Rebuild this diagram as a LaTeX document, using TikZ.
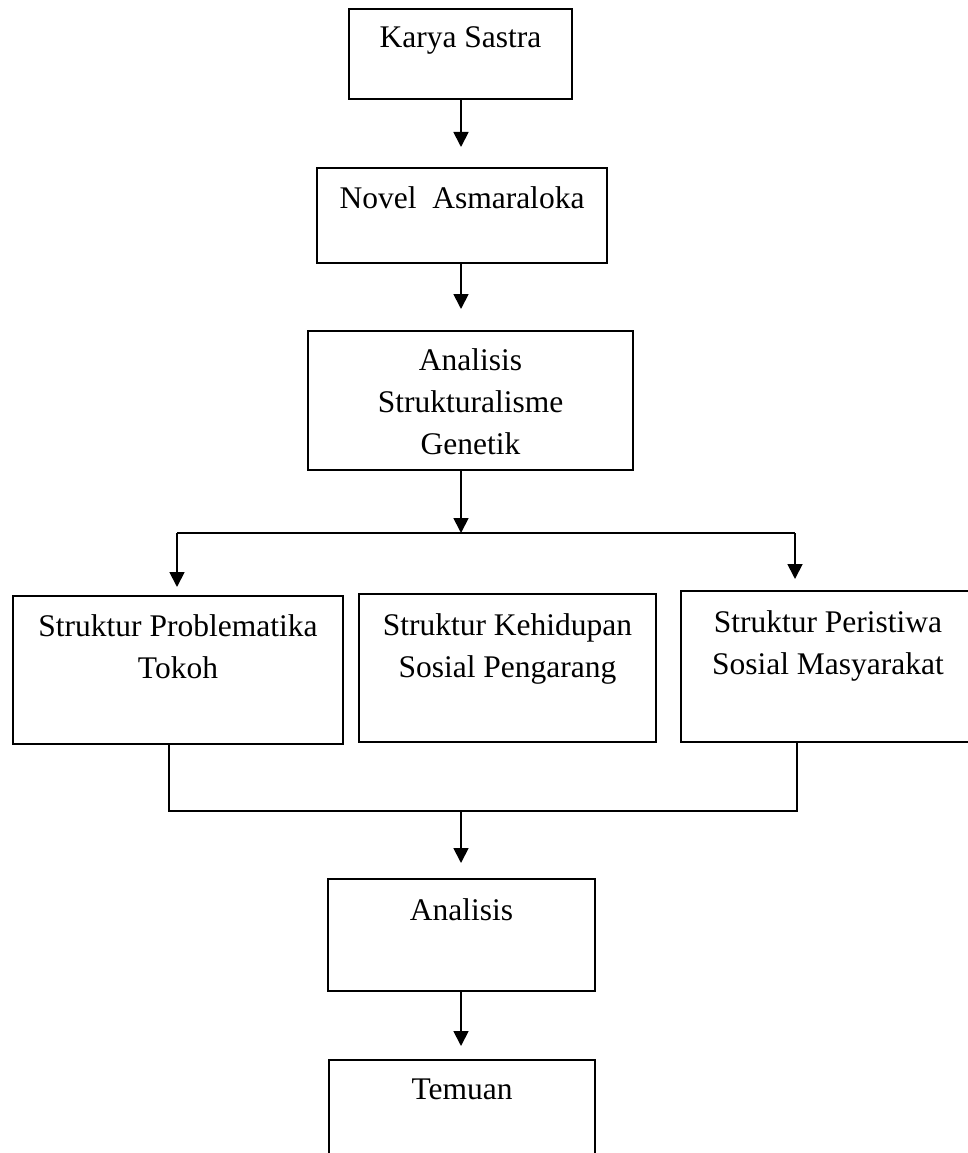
\documentclass[tikz,border=0pt]{standalone}
\usepackage{fontspec}
\setmainfont{Liberation Serif}
\usepackage{tikz}
\usetikzlibrary{arrows.meta}
\usetikzlibrary{calc}

\begin{document}
\begin{tikzpicture}[x=1pt,y=-1pt]

\tikzstyle{kotak}=[draw,line width=1.8pt,inner sep=0pt,outer sep=0pt]
\tikzstyle{teks}=[anchor=base,align=center,inner sep=0pt,font=\fontsize{31.5}{42}\selectfont]
\tikzstyle{panah}=[line width=1.8pt,-{Triangle[width=15pt,length=15pt]}]
\tikzstyle{garis}=[line width=1.8pt]

% FRAME
\clip (0,0) rectangle (968,1153);

% BOXES
\node [kotak,minimum width=223pt,minimum height=90pt] (karya) at (460.5,54) {};
\node [kotak,minimum width=290pt,minimum height=95pt] (novel) at (462,215.5) {};
\node [kotak,minimum width=325pt,minimum height=139pt] (genetik) at (470.5,400.5) {};
\node [kotak,minimum width=330pt,minimum height=148pt] (tokoh) at (178,670) {};
\node [kotak,minimum width=297pt,minimum height=148pt] (pengarang) at (507.5,668) {};
\node [kotak,minimum width=294pt,minimum height=151pt] (masyarakat) at (828,666.5) {};
\node [kotak,minimum width=267pt,minimum height=112pt] (analisis) at (461.5,935) {};
\node [kotak,minimum width=266pt,minimum height=110pt] (temuan) at (462,1115) {};

% TEXTS (base = last line)
\node [teks] (tkarya) at ([yshift=-39pt]karya.north) {Karya Sastra};
\node [teks] (tnovel) at ([yshift=-40pt]novel.north) {Novel\ \ Asmaraloka};
\node [teks] (tgenetik) at ([yshift=-123pt]genetik.north) {Analisis\\Strukturalisme\\Genetik};
\node [teks] (ttokoh) at ([yshift=-82pt]tokoh.north) {Struktur Problematika\\Tokoh};
\node [teks] (tpengarang) at ([yshift=-83pt]pengarang.north) {Struktur Kehidupan\\Sosial Pengarang};
\node [teks] (tmasyarakat) at ([yshift=-83pt]masyarakat.north) {Struktur Peristiwa\\Sosial Masyarakat};
\node [teks] (tanalisis) at ([yshift=-41pt]analisis.north) {Analisis};
\node [teks] (ttemuan) at ([yshift=-39pt]temuan.north) {Temuan};

% JOINTS
\coordinate (cabang) at (461,533);
\coordinate (kiri) at (177,533);
\coordinate (kanan) at (795,533);
\coordinate (gabung) at (461,811);
\coordinate (bawahkiri) at (169,811);
\coordinate (bawahkanan) at (797,811);

% ARROWS
\draw [panah,shorten >=21pt] (cabang |- karya.south) -- (cabang |- novel.north);
\draw [panah,shorten >=22pt] (cabang |- novel.south) -- (cabang |- genetik.north);
\draw [panah] (cabang |- genetik.south) -- (cabang);
\draw [garis] (kiri) -- (kanan);
\draw [panah,shorten >=9pt] (kiri) -- (kiri |- tokoh.north);
\draw [panah,shorten >=12pt] (kanan) -- (kanan |- masyarakat.north);
\draw [garis] (bawahkiri |- tokoh.south) -- (bawahkiri) -- (bawahkanan) -- (bawahkanan |- masyarakat.south);
\draw [panah,shorten >=16pt] (gabung) -- (gabung |- analisis.north);
\draw [panah,shorten >=14pt] (gabung |- analisis.south) -- (gabung |- temuan.north);

\end{tikzpicture}
\end{document}
